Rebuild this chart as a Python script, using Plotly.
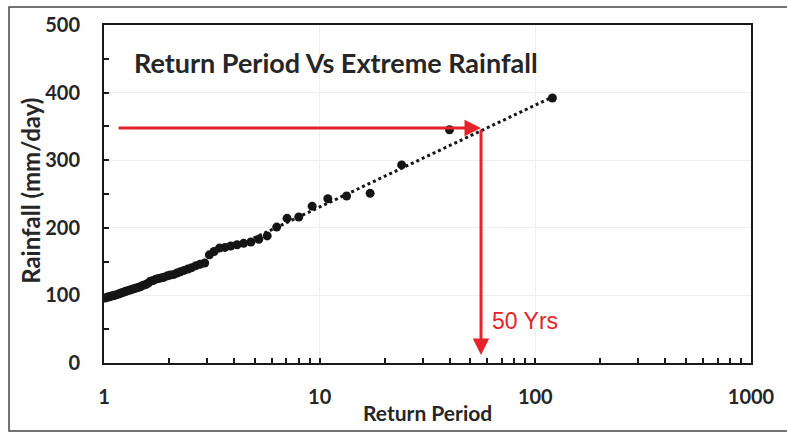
import math
import plotly.graph_objects as go

# Return periods (years)
return_period = [120.0, 40.0, 24.0, 17.14, 13.33, 10.91, 9.23, 8.0, 7.06, 6.32,
                 5.71, 5.22, 4.8, 4.44, 4.14, 3.87, 3.64, 3.43, 3.24, 3.08,
                 2.93, 2.79, 2.67, 2.55, 2.45, 2.35, 2.26, 2.18, 2.11, 2.03,
                 1.97, 1.90, 1.85, 1.79, 1.74, 1.69, 1.64, 1.60, 1.56, 1.52,
                 1.48, 1.45, 1.41, 1.38, 1.35, 1.32, 1.29, 1.26, 1.24, 1.21,
                 1.19, 1.17, 1.14, 1.12, 1.10, 1.08, 1.06, 1.04, 1.03, 1.01]
# Extreme rainfall (mm/day)
rainfall = [392, 345, 293, 251, 247, 243, 232, 216, 214, 201,
            188, 183, 179, 177, 175, 173, 171, 170, 165, 160,
            148, 146, 144, 141, 139, 137, 135, 133, 131, 130,
            129, 127, 126, 125, 124, 122, 121, 118, 116, 115,
            113, 112, 111, 110, 109, 108, 107, 106, 105, 104,
            103, 102, 101, 100, 99.5, 99, 98, 97.5, 97, 96]

# visible part of logarithmic trendline
trend_T = [4.4, 121.0]
trend_y = [177, 394]

# design value read-off
design_T = 56.0
design_y = 347.6
arrow_start_T = 1.15
arrow_end_y = 12

x_ticks = [1, 10, 100, 1000]
y_ticks = [0, 100, 200, 300, 400, 500]

fig = go.Figure()
fig.add_trace(go.Scatter(x=return_period, y=rainfall, mode="markers",
                         marker=dict(color="#151515", size=9),
                         showlegend=False, hoverinfo="skip"))
fig.add_trace(go.Scatter(x=trend_T, y=trend_y, mode="lines",
                         line=dict(color="#151515", width=3, dash="dot"),
                         showlegend=False, hoverinfo="skip"))

red = "#e4232a"
fig.add_annotation(x=math.log10(design_T), y=design_y, ax=math.log10(arrow_start_T), ay=design_y,
                   xref="x", yref="y", axref="x", ayref="y", text="", showarrow=True,
                   arrowhead=2, arrowsize=1.1, arrowwidth=3, arrowcolor=red)
fig.add_annotation(x=math.log10(design_T), y=arrow_end_y, ax=math.log10(design_T), ay=design_y,
                   xref="x", yref="y", axref="x", ayref="y", text="", showarrow=True,
                   arrowhead=2, arrowsize=1.1, arrowwidth=3, arrowcolor=red)
fig.add_annotation(x=1.79, y=62, xref="x", yref="y", text="50 Yrs", showarrow=False,
                   xanchor="left", yanchor="middle",
                   font=dict(family="Liberation Sans", size=23, color=red))

fig.add_annotation(x=0.043, y=0.89, xref="paper", yref="paper",
                   text="Return Period Vs Extreme Rainfall", showarrow=False,
                   xanchor="left", yanchor="middle",
                   font=dict(family="Lato", size=27, color="#262626", weight="bold"))
fig.add_annotation(x=0.5, y=-0.145, xref="paper", yref="paper",
                   text="Return Period", showarrow=False,
                   xanchor="center", yanchor="middle",
                   font=dict(family="Lato", size=21, color="#262626", weight="bold"))
fig.add_annotation(x=-0.114, y=0.51, xref="paper", yref="paper",
                   text="Rainfall (mm/day)", showarrow=False, textangle=-90,
                   xanchor="center", yanchor="middle",
                   font=dict(family="Lato", size=24, color="#262626", weight="bold"))

# outer frame
fig.add_shape(type="rect", xref="paper", yref="paper",
              x0=-0.1468, x1=1.1, y0=-0.201, y1=1.053,
              line=dict(color="#444444", width=1.5), layer="below")

fig.update_xaxes(type="log", range=[0, 3], tickvals=x_ticks, ticktext=[str(v) for v in x_ticks],
                 showline=True, linecolor="#1a1a1a", linewidth=2, mirror=True,
                 ticks="inside", ticklen=5, tickcolor="#1a1a1a", tickwidth=1.5,
                 showgrid=True, gridcolor="#efefef", gridwidth=1, zeroline=False,
                 ticklabelstandoff=15,
                 minor=dict(ticks="inside", ticklen=5, tickcolor="#1a1a1a", tickwidth=1.5,
                            dtick="D1", showgrid=False),
                 tickfont=dict(family="Lato", size=20, color="#262626", weight="bold"))
fig.update_yaxes(range=[0, 500], tickvals=y_ticks,
                 showline=True, linecolor="#1a1a1a", linewidth=2, mirror=True,
                 ticks="inside", ticklen=5, tickcolor="#1a1a1a", tickwidth=1.5,
                 showgrid=True, gridcolor="#efefef", gridwidth=1, zeroline=False,
                 ticklabelstandoff=18,
                 minor=dict(ticks="inside", ticklen=5, tickcolor="#1a1a1a", tickwidth=1.5,
                            dtick=50, showgrid=False),
                 tickfont=dict(family="Lato", size=20, color="#262626", weight="bold"))

fig.update_layout(width=787, height=434, margin=dict(l=104, r=36, t=25, b=71),
                  paper_bgcolor="white", plot_bgcolor="white")

fig.write_html("out.html")
